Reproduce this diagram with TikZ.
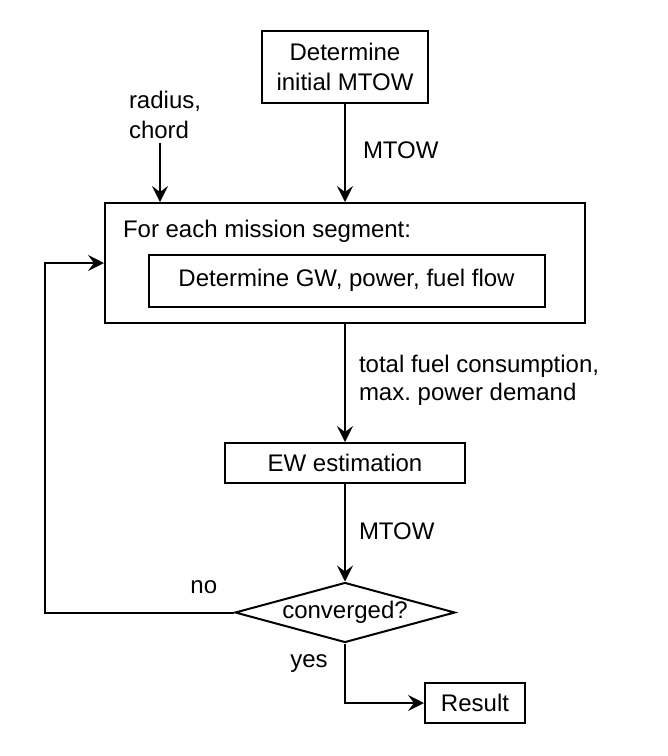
\documentclass[tikz,border=0pt]{standalone}
\usepackage{fontspec}
\setmainfont{Liberation Sans}
\usepackage{tikz}
\usetikzlibrary{positioning}
\usetikzlibrary{arrows.meta}
\usetikzlibrary{shapes.geometric}
\tikzset{proc node/.style={rectangle,draw,line width=1pt,align=center,inner sep=0pt},
  loop box/.style={rectangle,draw,line width=1pt,minimum width=240pt,minimum height=60pt},
  decision node/.style={diamond,draw,line width=1pt,aspect=3.67,inner sep=0pt,minimum width=110pt,minimum height=30pt},
  edge label/.style={align=left,inner sep=0pt,anchor=west},}

\begin{document}
\begin{tikzpicture}[x=0.5pt,y=-0.5pt,->,>={Stealth[length=8pt,width=8pt,inset=3pt]},line width=1pt,font=\fontsize{12}{15}\selectfont]
    \useasboundingbox (0,0) rectangle (668,756);
    \node[proc node,minimum width=83pt,minimum height=36pt] (init) at (345,66.5) {Determine\\initial MTOW};
    \node[loop box] (seg) at (345,263) {};
    \node[edge label] (segtitle) at (122,231) {For each mission segment:};
    \node[proc node,minimum width=198pt,minimum height=26pt] (gw) at (346.5,280.5) {Determine GW, power, fuel flow};
    \node[proc node,minimum width=120pt,minimum height=20pt] (ew) at (345,463) {EW estimation};
    \node[decision node] (conv) at (345,612.5) {converged?};
    \node[proc node,minimum width=50pt,minimum height=20pt] (res) at (475,703) {Result};
    \node[edge label] (geom) at (128,115) {radius,\\chord};
    \coordinate (geomin) at (160,143);
    \coordinate (back) at (45,612.5);

    \draw (geomin) -- (geomin |- seg.north);
    \draw (init) -- node[edge label,pos=0.47,xshift=8.5pt] {MTOW} (seg);
    \draw (seg) -- node[edge label,pos=0.48,xshift=6.5pt,font=\fontsize{12}{14}\selectfont] {total fuel consumption,\\max.\ power demand} (ew);
    \draw (ew) -- node[edge label,pos=0.48,xshift=6.5pt] {MTOW} (conv);
    \draw (conv.west) -- node[pos=0.16,yshift=12.5pt,inner sep=0pt] {no} (back) |- (seg.west);
    \draw (conv.south) |- node[pos=0.17,xshift=-18pt,inner sep=0pt] {yes} (res.west);
\end{tikzpicture}
\end{document}
